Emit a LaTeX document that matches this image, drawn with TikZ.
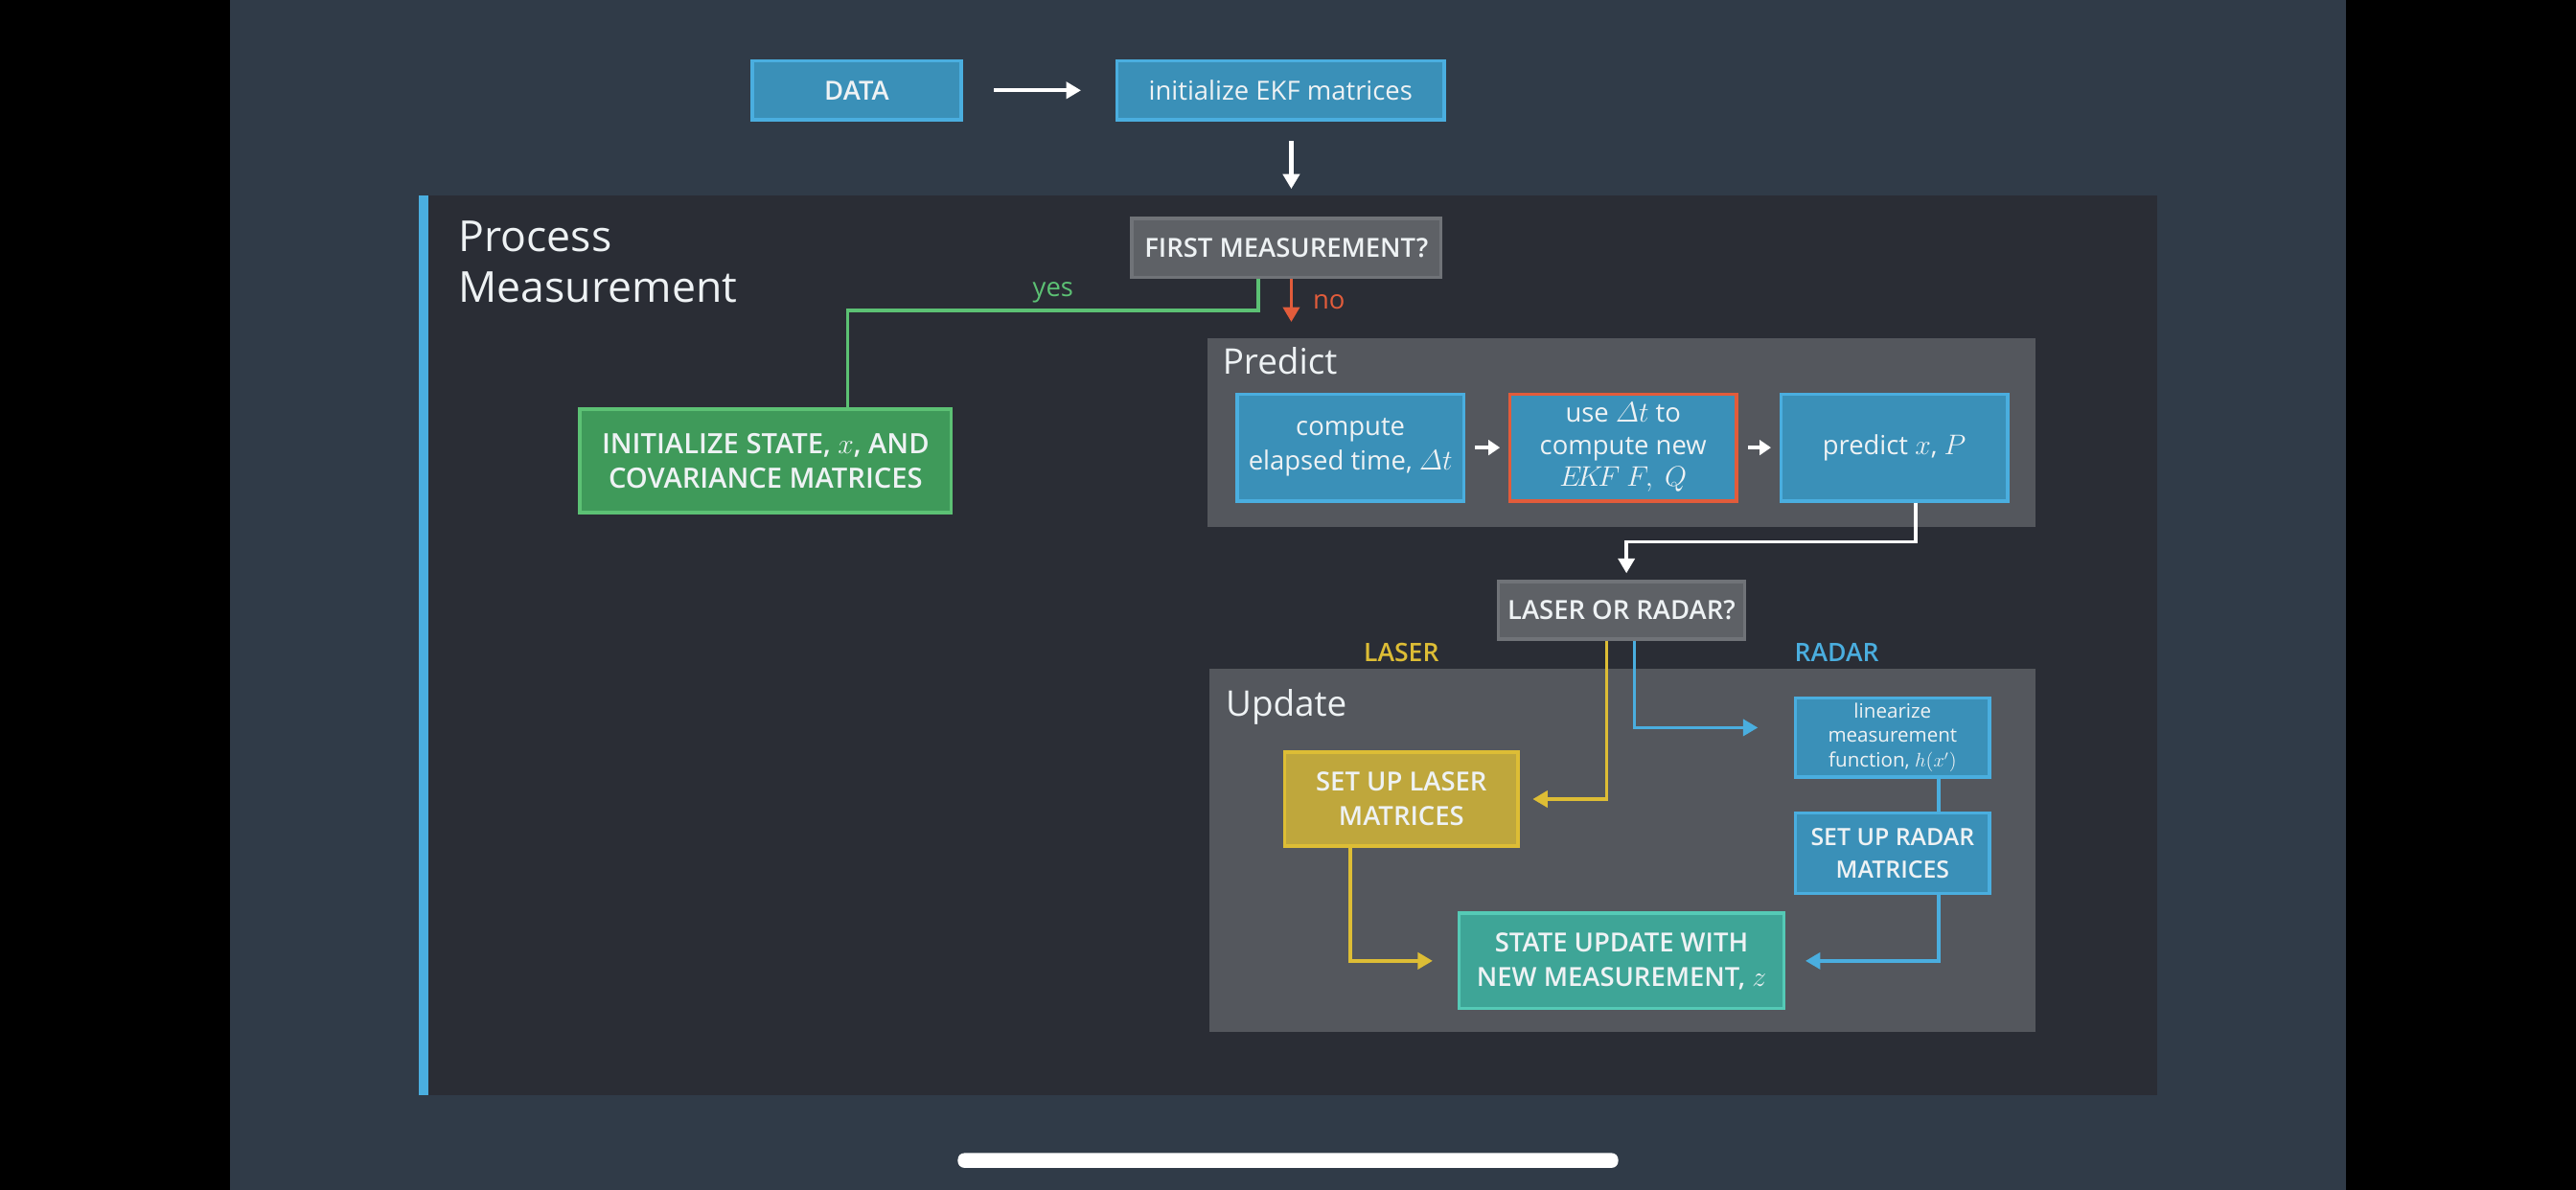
\documentclass[tikz,border=0pt]{standalone}
\usepackage{amsmath}
\usepackage{fontspec}
\setmainfont{Open Sans}
\IfFontExistsTF{Open Sans SemiBold}
  {\newfontfamily\semib{Open Sans SemiBold}}
  {\IfFontExistsTF{Open Sans Semibold}
    {\newfontfamily\semib{Open Sans Semibold}}
    {\newcommand\semib{\bfseries}}}
\usetikzlibrary{arrows.meta}

\definecolor{slate}{HTML}{303B48}
\definecolor{panelbg}{HTML}{2A2D35}
\definecolor{stagebg}{HTML}{54575D}
\definecolor{boxblue}{HTML}{3A90B8}
\definecolor{edgeblue}{HTML}{4AAEDF}
\definecolor{boxgrey}{HTML}{5E6166}
\definecolor{edgegrey}{HTML}{707378}
\definecolor{boxgreen}{HTML}{3F9A5A}
\definecolor{edgegreen}{HTML}{5CC174}
\definecolor{boxyellow}{HTML}{BFA73C}
\definecolor{edgeyellow}{HTML}{DDBD35}
\definecolor{boxteal}{HTML}{3EA597}
\definecolor{edgeteal}{HTML}{55CAB6}
\definecolor{accentred}{HTML}{E25C3B}
\definecolor{txt}{HTML}{EEF2F4}

\tikzset{
  box/.style={draw, line width=2pt, align=center, text=txt, inner sep=0pt,
    font=\fontsize{16}{21}\selectfont},
  caps/.style={font=\semib\fontsize{16}{21}\selectfont},
  bluebox/.style={box, fill=boxblue, draw=edgeblue},
  greybox/.style={box, caps, fill=boxgrey, draw=edgegrey},
  greenbox/.style={box, caps, fill=boxgreen, draw=edgegreen},
  yellowbox/.style={box, caps, fill=boxyellow, draw=edgeyellow},
  tealbox/.style={box, caps, fill=boxteal, draw=edgeteal},
  title/.style={text=txt, inner sep=0pt, anchor=base west},
  conn/.style={line width=2pt},
  tip/.style={-{Triangle[length=9pt,width=10pt]}},
  smalltip/.style={-{Triangle[length=7pt,width=9pt]}},
}

\begin{document}
\begin{tikzpicture}[x=1pt,y=-1pt]
  % screen frame
  \useasboundingbox (0,0) rectangle (1568,724.5);
  \fill[black] (0,0) rectangle (1568,724.5);
  \fill[slate] (140,0) rectangle (1428,724.5);

  % process measurement panel with its blue side bar
  \fill[panelbg] (257,119) rectangle (1313,667);
  \fill[edgeblue] (255,119) rectangle (261,667);
  \node[title, font=\fontsize{26}{32}\selectfont] (ptitle1) at (279,153) {Process};
  \node[title, font=\fontsize{26}{32}\selectfont] (ptitle2) at (279,184) {Measurement};

  % stage panels
  \fill[stagebg] (735,206) rectangle (1239,321);
  \fill[stagebg] (736,407) rectangle (1239,628);
  \node[title, font=\fontsize{21.5}{26}\selectfont] (predtitle) at (744,228) {Predict};
  \node[title, font=\fontsize{21.5}{26}\selectfont] (updtitle) at (746,436) {Update};

  % boxes
  \node[bluebox, caps, minimum width=127, minimum height=36] (data) at (521.5,55) {DATA};
  \node[bluebox, minimum width=199, minimum height=36] (init) at (779.5,55) {initialize EKF matrices};
  \node[greybox, minimum width=188, minimum height=36] (first) at (783,151) {FIRST MEASUREMENT?};
  \node[greenbox, font=\semib\fontsize{17}{21}\selectfont, minimum width=226, minimum height=63]
    (initstate) at (466,280.5) {INITIALIZE STATE, $x$, AND\\COVARIANCE MATRICES};
  \node[bluebox, minimum width=138, minimum height=65] (elapsed) at (822,272.5)
    {compute\\elapsed time, $\varDelta t$};
  \node[bluebox, draw=accentred, minimum width=138, minimum height=65,
    font=\fontsize{16}{19.5}\selectfont] (usedt) at (988,272.5)
    {use $\varDelta t$ to\\compute new\\$E\!K\!F\ F,\ Q$};
  \node[bluebox, minimum width=138, minimum height=65] (predict) at (1153,272.5)
    {predict $x$, $P$};
  \node[greybox, minimum width=150, minimum height=35] (lor) at (987,371.5) {LASER OR RADAR?};
  \node[bluebox, minimum width=118, minimum height=48, font=\fontsize{12}{15}\selectfont]
    (linearize) at (1152,449) {linearize\\measurement\\function, $h(x')$};
  \node[bluebox, font=\semib\fontsize{14.5}{20}\selectfont, minimum width=118, minimum height=49]
    (radar) at (1152,519.5) {SET UP RADAR\\MATRICES};
  \node[yellowbox, minimum width=142, minimum height=57] (laser) at (853,486.5)
    {SET UP LASER\\MATRICES};
  \node[tealbox, minimum width=198, minimum height=58] (state) at (987,585)
    {STATE UPDATE WITH\\NEW MEASUREMENT, $z$};

  % branch labels
  \node[text=edgegreen, font=\fontsize{16}{20}\selectfont, inner sep=0pt] (yes) at (641,178) {yes};
  \node[text=accentred, font=\fontsize{16}{20}\selectfont, inner sep=0pt, anchor=west] (no) at (799,184) {no};
  \node[text=edgeyellow, font=\semib\fontsize{15.5}{20}\selectfont, inner sep=0pt] (lasertag) at (853,397) {LASER};
  \node[text=edgeblue, font=\semib\fontsize{15.5}{20}\selectfont, inner sep=0pt] (radartag) at (1118,397) {RADAR};

  % routing points
  \coordinate (trunk) at (786,0);
  \coordinate (yesdrop) at (766,0);
  \coordinate (yescorner) at (516,189);
  \coordinate (predout) at (1166,0);
  \coordinate (lorin) at (990,330);
  \coordinate (laserout) at (978,0);
  \coordinate (radarout) at (995,443);
  \coordinate (radarline) at (1180,0);
  \coordinate (laserdown) at (822,0);

  % connectors
  \draw[conn, white, line width=2.5pt, tip, shorten <=19pt, shorten >=21pt] (data) -- (init);
  \draw[conn, white, line width=2.5pt, tip, shorten <=12pt, shorten >=17pt]
    (init.south -| trunk) -- (first.north -| trunk);
  \draw[conn, edgegreen] (first.south -| yesdrop) |- (yescorner) -- (initstate.north -| yescorner);
  \draw[conn, accentred, tip] (first.south -| trunk) -- ++(0,26);
  \draw[conn, white, smalltip, shorten <=6pt, shorten >=5pt] (elapsed) -- (usedt);
  \draw[conn, white, smalltip, shorten <=6pt, shorten >=5pt] (usedt) -- (predict);
  \draw[conn, white, tip, shorten >=4pt] (predict.south -| predout) |- (lorin) -- (lor.north -| lorin);
  \draw[conn, edgeyellow, tip, shorten >=8pt] (lor.south -| laserout) |- (laser.east);
  \draw[conn, edgeblue, tip, shorten >=22pt] (lor.south -| radarout) |- (radarout -| linearize.west);
  \draw[conn, edgeblue] (linearize.south -| radarline) -- (radar.north -| radarline);
  \draw[conn, edgeblue, tip, shorten >=12pt] (radar.south -| radarline) |- (state.east);
  \draw[conn, edgeyellow, tip, shorten >=15pt] (laser.south -| laserdown) |- (state.west);

  % home indicator
  \fill[white, rounded corners=4pt] (583,702) rectangle (985,711);
\end{tikzpicture}
\end{document}
